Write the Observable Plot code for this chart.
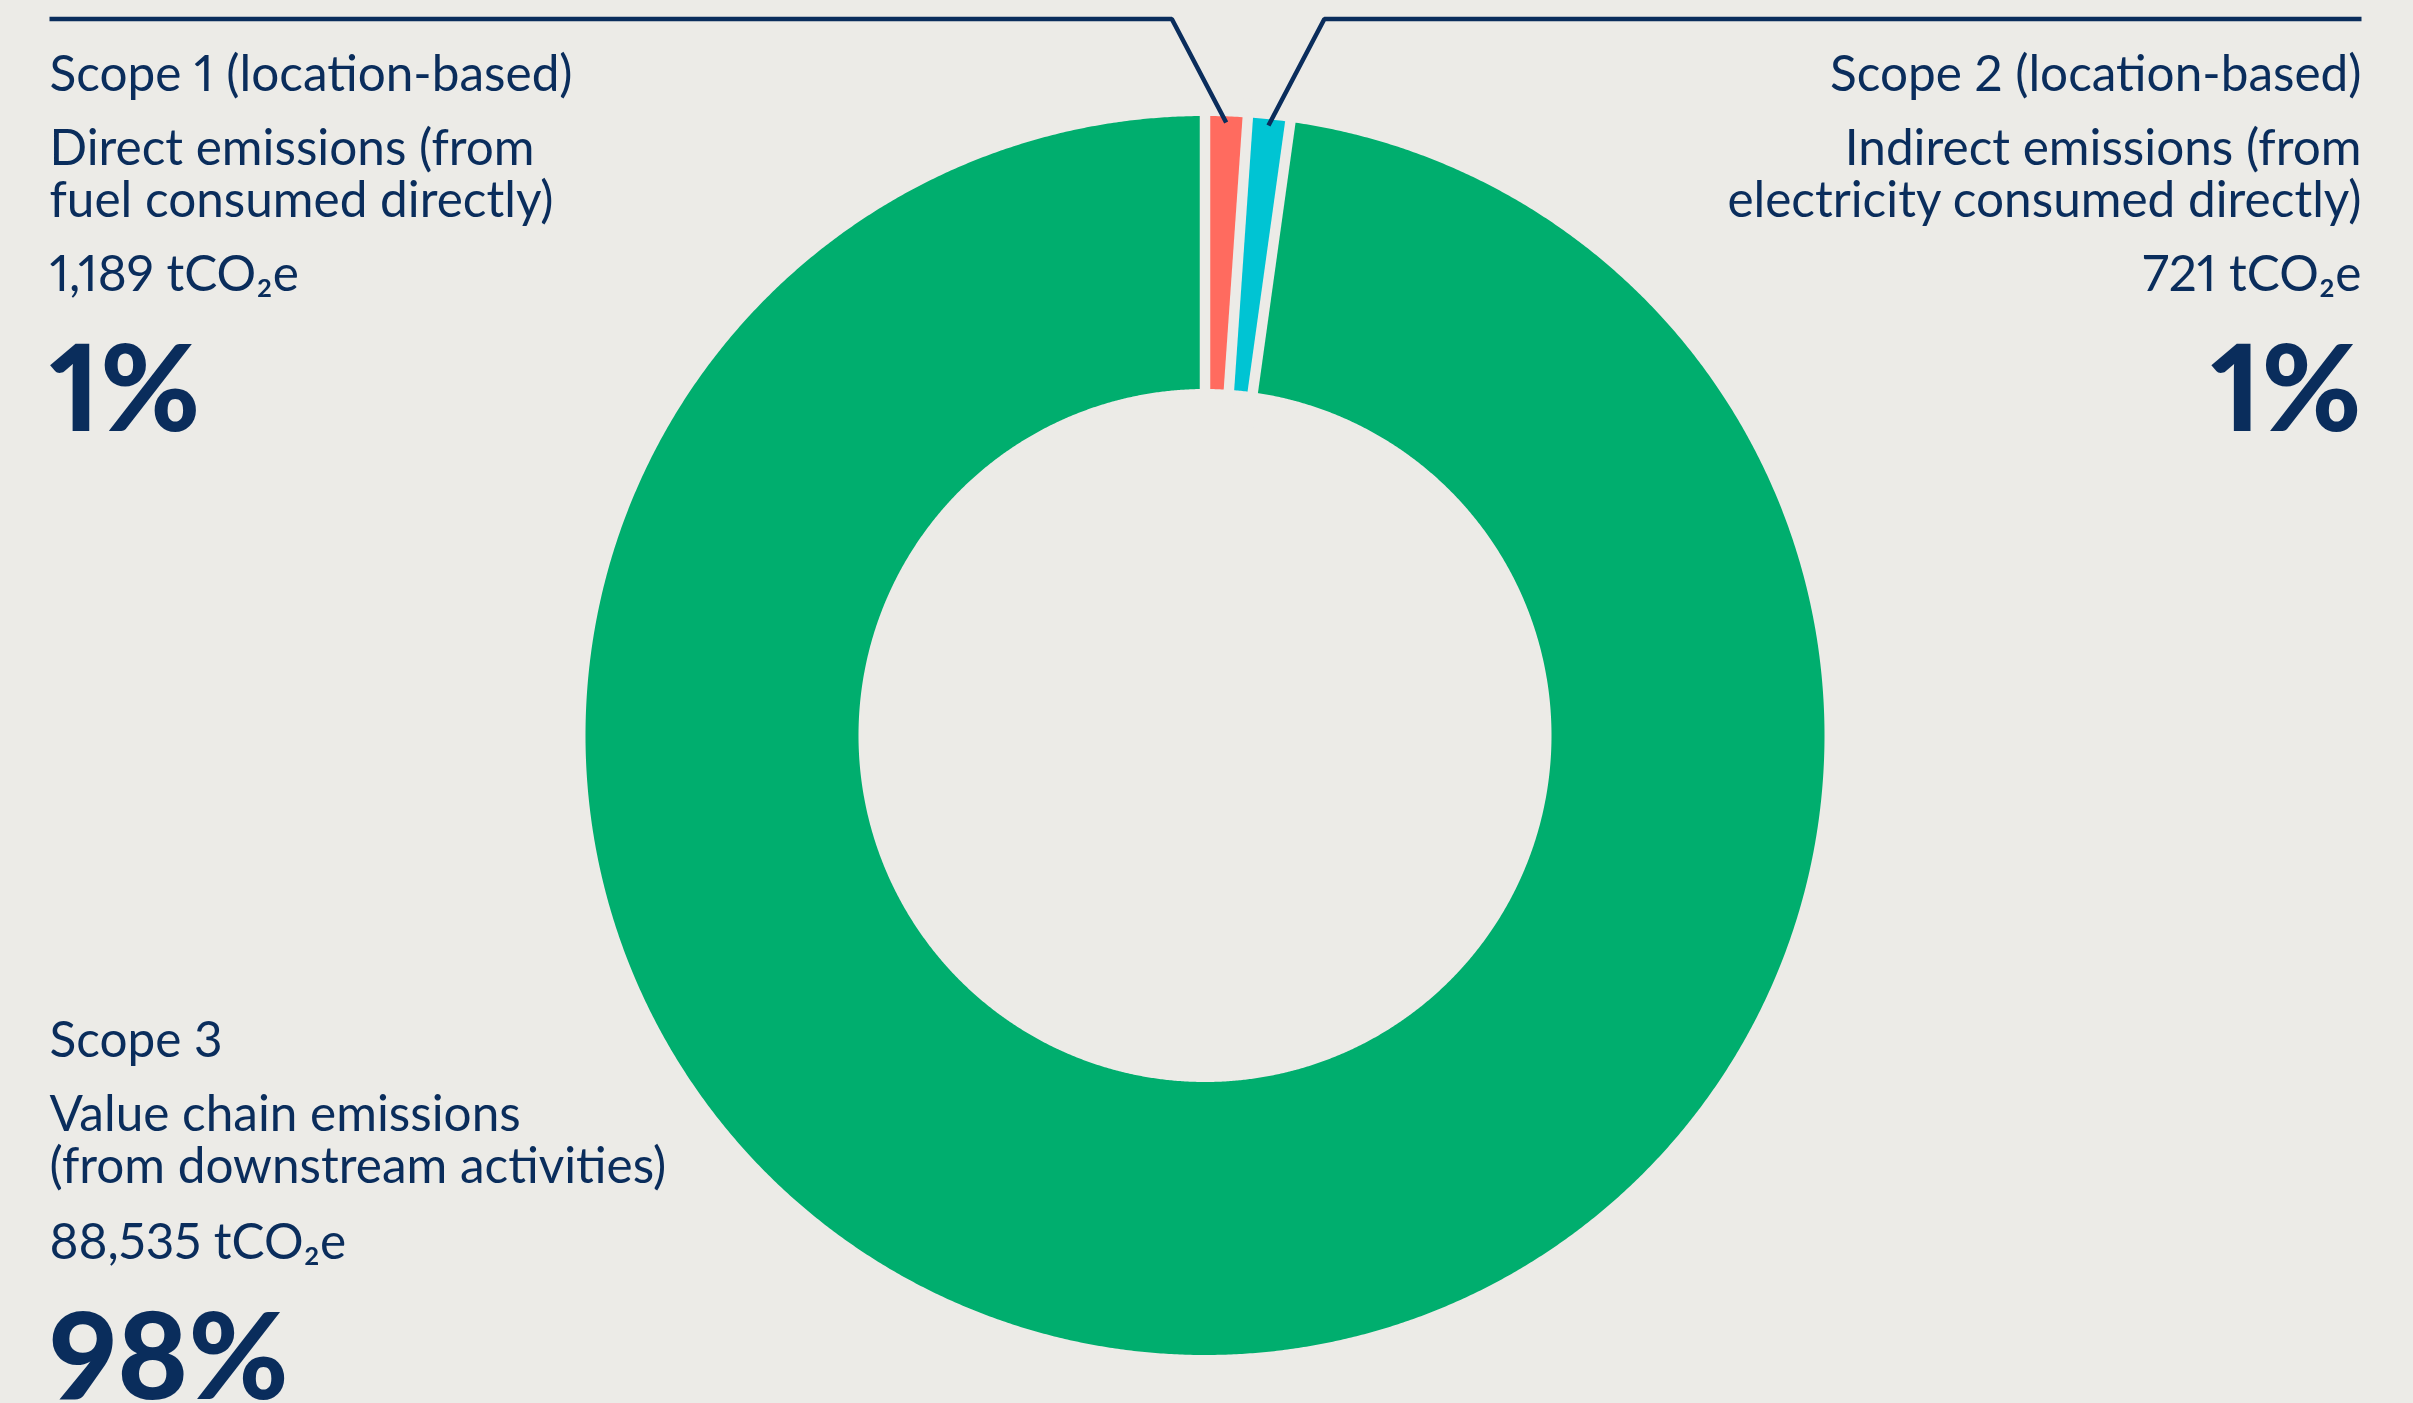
<!DOCTYPE html>
<html>
<head>
<meta charset="utf-8">
<script src="https://cdn.jsdelivr.net/npm/d3@7"></script>
<script src="https://cdn.jsdelivr.net/npm/@observablehq/plot@0.6"></script>
<style>
  html, body { margin: 0; padding: 0; background: #ECEBE7; }
  #chart svg { display: block; }
  #chart svg text { font-variant-numeric: proportional-nums; font-feature-settings: "pnum" 1; }
</style>
</head>
<body>
<div id="chart"></div>
<script>
// ---------------- data ----------------
const scopes = ["Scope 1", "Scope 2", "Scope 3"];
const headings = ["Scope 1 (location-based)", "Scope 2 (location-based)", "Scope 3"];
const descriptions = [
  "Direct emissions (from\nfuel consumed directly)",
  "Indirect emissions (from\nelectricity consumed directly)",
  "Value chain emissions\n(from downstream activities)"
];
const emissions = [1189, 721, 88535];          // tCO2e
const percentLabels = ["1%", "1%", "98%"];
const arcShares = [1.1, 1.1, 97.8];            // share of the ring as drawn (%)
const sliceColors = ["#FF6B5F", "#00C4D3", "#00AE6E"];

// ---------------- layout ----------------
const W = 2413, H = 1403;
const CX = 1204.5, CY = 735, R = 619.5;
const INNER = 346.5 / R;
const BG = "#ECEBE7", NAVY = "#0A2D5C";
const TEXT_LEFT = 49, TEXT_RIGHT = 2361, LEADER_TOP = 18.5;
const BODY_FONT = "Lato, 'Open Sans', sans-serif";
const BODY_SIZE = 49.5, BIG_SIZE = 121, LINE_H = 52.7;

const toUX = px => (px - CX) / R;
const toUY = py => (CY - py) / R;

// slices (clockwise from 12 o'clock)
let acc = 0;
const slices = scopes.map((scope, i) => {
  const a0 = acc / 100 * 2 * Math.PI;
  acc += arcShares[i];
  const a1 = acc / 100 * 2 * Math.PI;
  return {scope, a0, a1, mid: (a0 + a1) / 2};
});

const ringPts = slices.flatMap(({scope, a0, a1}) => {
  const n = Math.max(4, Math.ceil((a1 - a0) / (Math.PI / 720)));
  const angles = d3.range(n + 1).map(k => a0 + (a1 - a0) * k / n);
  const outer = angles.map(a => ({scope, x: Math.sin(a), y: Math.cos(a)}));
  const inner = angles.slice().reverse().map(a => ({scope, x: INNER * Math.sin(a), y: INNER * Math.cos(a)}));
  return [...outer, ...inner];
});

const separators = slices.map(s => ({a: s.a0}));

// leader lines for the two small slices
const leaderY = toUY(LEADER_TOP);
const leaderPts = slices.slice(0, 2).flatMap((s, i) => {
  const side = i === 0 ? -1 : 1;
  const tx = 0.99 * Math.sin(s.mid), ty = 0.99 * Math.cos(s.mid);
  const ex = tx + side * (leaderY - ty) * 0.525;
  const endX = toUX(side < 0 ? TEXT_LEFT : TEXT_RIGHT);
  return [
    {scope: s.scope, x: endX, y: leaderY},
    {scope: s.scope, x: ex, y: leaderY},
    {scope: s.scope, x: tx, y: ty}
  ];
});

// ---------------- text blocks ----------------
const fmt = d3.format(",");
const blocks = [
  {i: 0, anchor: "left", base: [90.7, 216.7, 290.7, 430.7]},
  {i: 1, anchor: "right", base: [90.7, 216.7, 290.7, 430.7]},
  {i: 2, anchor: "left", base: [1056.7, 1182.7, 1258.3, 1398]}
];
const textMarks = blocks.flatMap(({i, anchor, base}) => {
  const left = anchor === "left";
  const common = {
    frameAnchor: left ? "top-left" : "top-right",
    dx: left ? TEXT_LEFT : -(W - TEXT_RIGHT),
    textAnchor: left ? "start" : "end",
    lineAnchor: "bottom",
    fill: NAVY,
    fontFamily: BODY_FONT
  };
  const lines = [headings[i], descriptions[i], `${fmt(emissions[i])} tCO\u2082e`];
  const marks = lines.map((t, k) => Plot.text([t], {
    ...common, text: d => d, dy: base[k], fontSize: BODY_SIZE,
    lineHeight: LINE_H / BODY_SIZE, fontWeight: 400
  }));
  marks.push(Plot.text([percentLabels[i]], {
    ...common, text: d => d, dy: base[3], fontSize: BIG_SIZE, fontWeight: 900
  }));
  return marks;
});

const chart = Plot.plot({
  width: W,
  height: H,
  margin: 0,
  x: {domain: [-1, 1], range: [CX - R, CX + R], axis: null},
  y: {domain: [-1, 1], range: [CY + R, CY - R], axis: null},
  color: {domain: scopes, range: sliceColors},
  style: {background: BG, color: NAVY, fontFamily: BODY_FONT},
  marks: [
    Plot.line(ringPts, {x: "x", y: "y", z: "scope", fill: "scope", stroke: null, curve: "linear"}),
    Plot.link(separators, {
      x1: d => 0.9 * INNER * Math.sin(d.a), y1: d => 0.9 * INNER * Math.cos(d.a),
      x2: d => 1.03 * Math.sin(d.a), y2: d => 1.03 * Math.cos(d.a),
      stroke: BG, strokeWidth: 10.5, strokeLinecap: "butt"
    }),
    Plot.line(leaderPts, {
      x: "x", y: "y", z: "scope", stroke: NAVY, strokeWidth: 4.5,
      strokeLinejoin: "miter", strokeLinecap: "butt", curve: "linear"
    }),
    ...textMarks
  ]
});
document.getElementById("chart").append(chart);
</script>
</body>
</html>
